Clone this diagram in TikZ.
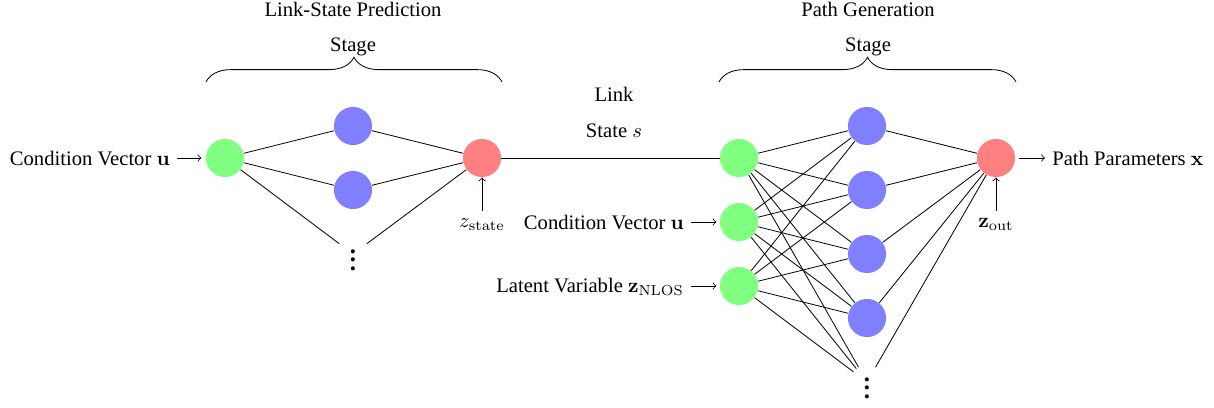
\documentclass[tikz,border=0pt]{standalone}
\usepackage[no-math]{fontspec}
\setmainfont{Liberation Serif}
\usetikzlibrary{decorations.pathreplacing}
\begin{document}
\begin{tikzpicture}[x=0.485pt,y=-0.485pt,
  neuron/.style={circle,minimum size=18.5pt,inner sep=0pt,draw=none},
  inneuron/.style={neuron,fill=green!50},
  hidneuron/.style={neuron,fill=blue!50},
  outneuron/.style={neuron,fill=red!50},
  dotsnode/.style={circle,inner sep=0pt,font=\bfseries\large},
  conn/.style={line width=0.4pt},
  arr/.style={->,line width=0.4pt},
  title/.style={align=center},
  stagebrace/.style={decorate,decoration={brace,amplitude=12pt},line width=0.4pt}]
\useasboundingbox (0,0) rectangle (1214,408);

% ---- left network
\node[inneuron] (g1) at (225,158) {};
\node[hidneuron] (b1) at (353,126) {};
\node[hidneuron] (b2) at (353,190) {};
\node[dotsnode] (d1) at (353,254) {$\vdots$};
\node[outneuron] (r1) at (482,158) {};

% ---- right network
\node[inneuron] (g2) at (739,158) {};
\node[inneuron] (g3) at (739,222) {};
\node[inneuron] (g4) at (739,286) {};
\node[hidneuron] (b3) at (867,126) {};
\node[hidneuron] (b4) at (867,190) {};
\node[hidneuron] (b5) at (867,254) {};
\node[hidneuron] (b6) at (867,318) {};
\node[dotsnode] (d2) at (867,382) {$\vdots$};
\node[outneuron] (r2) at (996,158) {};

% ---- connections
\foreach \h in {b1,b2,d1} {
  \draw[conn] (g1) -- (\h);
  \draw[conn] (\h) -- (r1);
}
\foreach \i in {g2,g3,g4} {
  \foreach \h in {b3,b4,b5,b6,d2} {
    \draw[conn] (\i) -- (\h);
  }
}
\foreach \h in {b3,b4,b5,b6,d2} {
  \draw[conn] (\h) -- (r2);
}
\draw[conn] (r1) -- (g2);

% ---- inputs / outputs
\node[anchor=base east] (in1) at (177,165) {Condition Vector $\mathbf{u}$};
\draw[arr,shorten >=2pt] (in1.east |- g1.west) -- (g1.west);
\node[anchor=base east] (in2) at (691,229) {Condition Vector $\mathbf{u}$};
\draw[arr,shorten >=1.5pt] (in2.east |- g3.west) -- (g3.west);
\node[anchor=base east] (in3) at (691,292) {Latent Variable $\mathbf{z}_{\mathrm{NLOS}}$};
\draw[arr,shorten >=1.5pt] (in3.east |- g4.west) -- (g4.west);
\node[anchor=base west] (out) at (1045,165) {Path Parameters $\mathbf{x}$};
\draw[arr,shorten <=1.5pt] (r2.east) -- (out.west |- r2.east);

\node[anchor=base] (zs) at (482,227) {$z_{\mathrm{state}}$};
\draw[arr] (zs) -- (r1);
\node[anchor=base] (zo) at (996,227) {$\mathbf{z}_{\mathrm{out}}$};
\draw[arr] (zo) -- (r2);

% ---- stage labels
\coordinate (bl1) at (206,82);
\coordinate (br1) at (502,82);
\coordinate (bl2) at (719,82);
\coordinate (br2) at (1016,82);
\draw[stagebrace] (bl1) -- (br1);
\draw[stagebrace] (bl2) -- (br2);
\node[title,anchor=base] (t1) at (353,52) {Link-State Prediction\\[5pt]Stage};
\node[title,anchor=base] (t2) at (868,52) {Path Generation\\[5pt]Stage};
\node[title,anchor=base] (t3) at (614,137) {Link\\[5pt]State $s$};
\end{tikzpicture}
\end{document}
